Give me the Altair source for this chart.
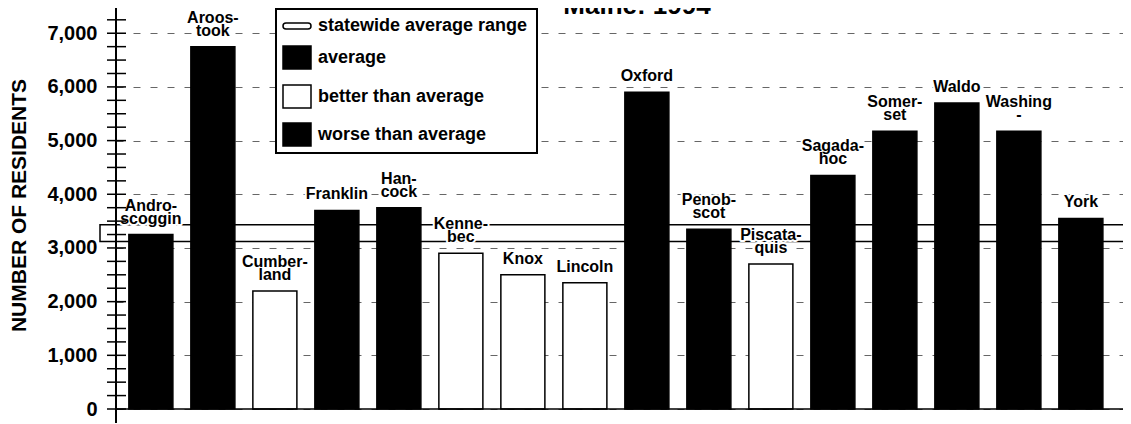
import altair as alt
import pandas as pd

# ---- data ----
counties = ["Androscoggin", "Aroostook", "Cumberland", "Franklin", "Hancock",
            "Kennebec", "Knox", "Lincoln", "Oxford", "Penobscot", "Piscataquis",
            "Sagadahoc", "Somerset", "Waldo", "Washington", "York"]
labels = ["Andro-\nscoggin", "Aroos-\ntook", "Cumber-\nland", "Franklin", "Han-\ncock",
          "Kenne-\nbec", "Knox", "Lincoln", "Oxford", "Penob-\nscot", "Piscata-\nquis",
          "Sagada-\nhoc", "Somer-\nset", "Waldo", "Washing\n-", "York"]
residents = [3250, 6750, 2200, 3700, 3750, 2900, 2500, 2350, 5900, 3350, 2700,
             4350, 5175, 5700, 5175, 3550]
status = ["average", "worse", "better", "worse", "worse", "better", "better", "better",
          "worse", "average", "better", "worse", "worse", "worse", "worse", "worse"]
avg_range = [3120, 3430]
y_tick_labels = [0, 1000, 2000, 3000, 4000, 5000, 6000, 7000]
minor_ticks = [0, 250, 500, 750, 1000, 1250, 1500, 1750, 2000, 2250, 2500, 2750,
               3000, 3250, 3500, 3750, 4000, 4250, 4500, 4750, 5000, 5250, 5500,
               5750, 6000, 6250, 6500, 6750, 7000, 7250]
legend_labels = ["statewide average range", "average", "better than average",
                 "worse than average"]
status_domain = ["average", "better", "worse"]
status_fill = ["black", "white", "black"]
chart_title = "Maine: 1994"
y_title = "NUMBER OF RESIDENTS"

W, H = 1007, 401
FONT = "Liberation Sans"

first_line = [l.split("\n")[0] if "\n" in l else "" for l in labels]
last_line = [l.split("\n")[-1] for l in labels]

df = pd.DataFrame({"county": counties, "line1": first_line, "line2": last_line,
                   "residents": residents, "status": status})

yscale = alt.Scale(domain=[0, 7470], nice=False, zero=True)
xscale = alt.Scale(paddingInner=0.29, paddingOuter=0.266, align=0.39)

yaxis = alt.Axis(values=y_tick_labels, format=",d", title=y_title,
                 labelFont=FONT, labelFontSize=20, labelFontWeight="bold",
                 labelColor="black", labelPadding=19, ticks=False, tickSize=0,
                 domain=False, grid=True, gridColor="#666", gridDash=[7, 10],
                 gridWidth=1, titleFont=FONT, titleFontSize=21,
                 titleFontWeight="bold", titleColor="black", titleAngle=270,
                 titleAlign="center", titleBaseline="alphabetic",
                 titleX=-91, titleY=197)

one = pd.DataFrame({"a": [0]})

band = alt.Chart(pd.DataFrame({"lo": [avg_range[0]], "hi": [avg_range[1]]})).mark_rect(
    fill="white", stroke="black", strokeWidth=1.5
).encode(
    x=alt.value(-16), x2=alt.value(W + 6),
    y=alt.Y("lo:Q", scale=yscale, axis=yaxis), y2="hi:Q"
)

xenc = alt.X("county:N", sort=counties, scale=xscale, axis=None)
yenc = alt.Y("residents:Q", scale=yscale)

bars = alt.Chart(df).mark_bar(stroke="black", strokeWidth=1.5).encode(
    x=xenc, y=yenc,
    fill=alt.Fill("status:N", scale=alt.Scale(domain=status_domain, range=status_fill),
                  legend=None),
)

text_common = dict(baseline="alphabetic", fontSize=16, fontWeight="bold",
                   font=FONT, align="center")
label_layers = []
for field, dy in [("line2", -11), ("line1", -24)]:
    label_layers.append(alt.Chart(df).mark_text(stroke="white", strokeWidth=4, fill="white",
                                                strokeJoin="round", dy=dy, **text_common).encode(
        x=xenc, y=yenc, text=f"{field}:N"))
for field, dy in [("line2", -11), ("line1", -24)]:
    label_layers.append(alt.Chart(df).mark_text(fill="black", dy=dy, **text_common).encode(
        x=xenc, y=yenc, text=f"{field}:N"))

baseline = alt.Chart(pd.DataFrame({"z": [0]})).mark_rule(color="black", strokeWidth=1.5).encode(
    x=alt.value(0), x2=alt.value(W + 6), y=alt.Y("z:Q", scale=yscale)
)

ticks = alt.Chart(pd.DataFrame({"t": minor_ticks})).mark_rule(color="black", strokeWidth=1.5).encode(
    x=alt.value(-9), x2=alt.value(10), y=alt.Y("t:Q", scale=yscale)
)

yline = alt.Chart(one).mark_rule(color="black", strokeWidth=2).encode(
    x=alt.value(0), y=alt.value(0), y2=alt.value(H + 14)
)

# ---- legend box (drawn by hand, as in the original) ----
leg_layers = []
leg_layers.append(alt.Chart(one).mark_rect(fill="white", stroke="black", strokeWidth=2).encode(
    x=alt.value(160), x2=alt.value(421), y=alt.value(1), y2=alt.value(145)))
leg_layers.append(alt.Chart(one).mark_rect(fill="white", stroke="black", strokeWidth=1.5,
                                           cornerRadius=3).encode(
    x=alt.value(167), x2=alt.value(195), y=alt.value(15), y2=alt.value(21)))
for (y0, y1, f) in [(38, 61, "black"), (77, 100, "white"), (115, 138, "black")]:
    leg_layers.append(alt.Chart(one).mark_rect(fill=f, stroke="black", strokeWidth=1.5).encode(
        x=alt.value(167), x2=alt.value(195), y=alt.value(y0), y2=alt.value(y1)))
for lab, ty in zip(legend_labels, [18, 50, 89, 127]):
    leg_layers.append(alt.Chart(one).mark_text(align="left", baseline="middle", fontSize=18,
                                               fontWeight="bold", font=FONT, color="black").encode(
        x=alt.value(202), y=alt.value(ty), text=alt.value(lab)))

title = alt.Chart(one).mark_text(align="center", baseline="alphabetic", fontSize=26,
                                 fontWeight="bold", font=FONT, color="black").encode(
    x=alt.value(521), y=alt.value(6), text=alt.value(chart_title))

chart = alt.layer(band, bars, *label_layers, baseline, ticks, yline, *leg_layers, title).properties(
    width=W, height=H,
    padding={"left": 108, "top": 0, "right": 0, "bottom": 15},
    autosize=alt.AutoSizeParams(type="none"),
).configure(font=FONT).configure_view(stroke=None)

chart.save("out.html", embed_options={"renderer": "svg", "actions": False})
